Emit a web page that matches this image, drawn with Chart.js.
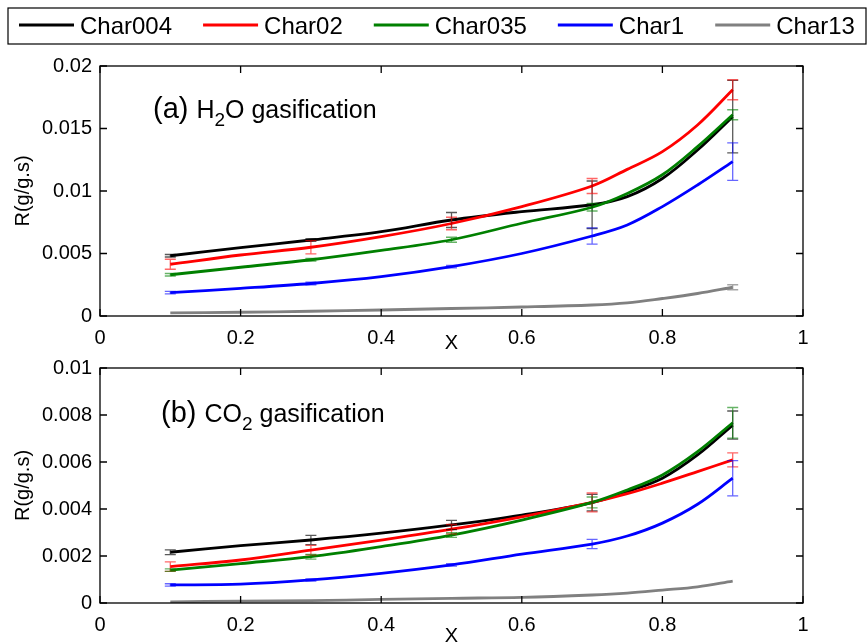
<!DOCTYPE html>
<html>
<head>
<meta charset="utf-8">
<script src="https://cdn.jsdelivr.net/npm/chart.js@4.4.0/dist/chart.umd.min.js"></script>
<style>
  html, body { margin: 0; padding: 0; background: #fff; overflow: hidden; }
  #wrap { position: relative; width: 867px; height: 644px; }
  canvas { position: absolute; left: 0; }
  #canvas_top { top: 0; }
  #canvas_bottom { top: 320px; }
</style>
</head>
<body>
<div id="wrap">
  <canvas id="canvas_top" width="867" height="360"></canvas>
  <canvas id="canvas_bottom" width="867" height="340"></canvas>
</div>
<script>
// conversion X, shared by every curve
const xs = [0.1, 0.2, 0.3, 0.4, 0.5, 0.6, 0.7, 0.75, 0.8, 0.85, 0.9];
const names = ['Char004', 'Char02', 'Char035', 'Char1', 'Char13'];
const colors = ['#000000', '#ff0000', '#008000', '#0000ff', '#808080'];
const barColors = ['rgba(0,0,0,0.65)', 'rgba(255,0,0,0.6)', 'rgba(0,128,0,0.6)', 'rgba(0,0,255,0.6)', 'rgba(128,128,128,0.7)'];

// error bars are at these X
const errX = [0.1, 0.3, 0.5, 0.7, 0.9];

// (a) H2O gasification, R in g/g.s
const h2oChar004 = [0.00482, 0.00547, 0.00608, 0.00675, 0.00768, 0.00835, 0.0089, 0.00955, 0.0110, 0.01328, 0.01595];
const h2oChar02  = [0.00414, 0.00488, 0.00550, 0.00635, 0.00740, 0.00875, 0.0104, 0.01173, 0.01315, 0.01528, 0.0181];
const h2oChar035 = [0.00330, 0.00390, 0.00450, 0.00525, 0.00610, 0.00742, 0.0087, 0.0098, 0.0113, 0.01355, 0.0161];
const h2oChar1   = [0.00187, 0.00221, 0.00260, 0.00315, 0.00395, 0.00500, 0.0064, 0.00728, 0.00875, 0.01048, 0.01235];
const h2oChar13  = [0.00025, 0.00030, 0.00038, 0.00048, 0.00060, 0.00072, 0.00088, 0.00105, 0.0014, 0.0018, 0.0023];

const h2oErrChar004 = [0.0001, 0.0001, 0.0006, 0.0019, 0.0029];
const h2oErrChar02  = [0.0004, 0.00053, 0.0005, 0.0006, 0.0008];
const h2oErrChar035 = [0.0001, 0.0001, 0.0002, 0.0003, 0.0004];
const h2oErrChar1   = [0.0001, 0.0001, 0.0001, 0.00065, 0.0015];
const h2oErrChar13  = [0, 0, 0, 0, 0.0002];

// (b) CO2 gasification
const co2Char004 = [0.00216, 0.00244, 0.00268, 0.00297, 0.00332, 0.00374, 0.00427, 0.00474, 0.00531, 0.0063, 0.00757];
const co2Char02  = [0.00155, 0.00183, 0.00225, 0.00268, 0.00314, 0.00367, 0.00428, 0.00465, 0.0051, 0.00559, 0.00609];
const co2Char035 = [0.00140, 0.00168, 0.00197, 0.00240, 0.00289, 0.00353, 0.00428, 0.00481, 0.00545, 0.00644, 0.00767];
const co2Char1   = [0.00077, 0.00080, 0.00098, 0.00126, 0.00162, 0.00208, 0.00251, 0.00285, 0.00340, 0.00420, 0.00531];
const co2Char13  = [0.00005, 0.00008, 0.00010, 0.00015, 0.00020, 0.00024, 0.00034, 0.00042, 0.00055, 0.00069, 0.00093];

const co2ErrChar004 = [0.0001, 0.0002, 0.0002, 0.00035, 0.0006];
const co2ErrChar02  = [0.0002, 0.0002, 0.0002, 0.0004, 0.0003];
const co2ErrChar035 = [0.00005, 0.0001, 0.0001, 0.00023, 0.00065];
const co2ErrChar1   = [0.00005, 0.00005, 0.00005, 0.0002, 0.00075];
const co2ErrChar13  = [0, 0, 0, 0, 0];

const xTicks = [0, 0.2, 0.4, 0.6, 0.8, 1];

const FONT = "'Liberation Sans', Arial, sans-serif";

function makeDatasets(series, errors) {
    return series.map((vals, i) => ({
        label: names[i],
        data: xs.map((x, k) => ({ x: x, y: vals[k] })),
        errors: errors[i],
        borderColor: colors[i],
        backgroundColor: colors[i],
        barColor: barColors[i],
        borderWidth: 2.8,
        pointRadius: 0,
        fill: false,
        tension: 0.35,
        order: series.length - i
    }));
}

function fmt(v) {
    return String(+v.toFixed(4));
}

// vertical error bars with caps, centred on the curve value
const errorBars = {
    id: 'errorBars',
    afterDatasetsDraw(chart) {
        const ctx = chart.ctx;
        const xs_ = chart.scales.x, ys_ = chart.scales.y;
        ctx.save();
        chart.data.datasets.forEach(ds => {
            ctx.strokeStyle = ds.barColor;
            ctx.lineWidth = 1.3;
            errX.forEach((x, k) => {
                const e = ds.errors[k];
                if (!e) return;
                const c = ds.data.find(p => p.x === x).y;
                const px = xs_.getPixelForValue(x);
                const t = ys_.getPixelForValue(c + e);
                const b = ys_.getPixelForValue(c - e);
                ctx.beginPath();
                ctx.moveTo(px, t); ctx.lineTo(px, b);
                ctx.moveTo(px - 5.5, t); ctx.lineTo(px + 5.5, t);
                ctx.moveTo(px - 5.5, b); ctx.lineTo(px + 5.5, b);
                ctx.stroke();
            });
        });
        ctx.restore();
    }
};

// matlab style box with inward ticks on all four sides
const frame = {
    id: 'frame',
    afterDraw(chart) {
        const ctx = chart.ctx;
        const a = chart.chartArea;
        const sx = chart.scales.x, sy = chart.scales.y;
        ctx.save();
        ctx.strokeStyle = '#000';
        ctx.lineWidth = 1.3;
        ctx.strokeRect(a.left, a.top, a.right - a.left, a.bottom - a.top);
        ctx.beginPath();
        sx.ticks.forEach(t => {
            const p = sx.getPixelForValue(t.value);
            ctx.moveTo(p, a.bottom); ctx.lineTo(p, a.bottom - 7);
            ctx.moveTo(p, a.top); ctx.lineTo(p, a.top + 7);
        });
        sy.ticks.forEach(t => {
            const p = sy.getPixelForValue(t.value);
            ctx.moveTo(a.left, p); ctx.lineTo(a.left + 7, p);
            ctx.moveTo(a.right, p); ctx.lineTo(a.right - 7, p);
        });
        ctx.stroke();
        ctx.restore();
    }
};

// panel label like "(a) H2O gasification", the subscript is its own piece
const panelText = {
    id: 'panelText',
    afterDraw(chart, args, opts) {
        const ctx = chart.ctx;
        const a = chart.chartArea;
        let x = a.left + opts.dx;
        const y = a.top + opts.dy;
        ctx.save();
        ctx.fillStyle = '#000';
        ctx.textBaseline = 'alphabetic';
        opts.parts.forEach(p => {
            ctx.font = p.size + 'px ' + FONT;
            ctx.fillText(p.text, x, y + (p.sub ? 8 : 0));
            x += ctx.measureText(p.text).width + (p.gap || 0);
        });
        ctx.restore();
    }
};

// legend in a box across the top of the figure
const legendBox = {
    id: 'legendBox',
    afterDraw(chart, args, opts) {
        if (!opts.show) return;
        const ctx = chart.ctx;
        ctx.save();
        ctx.strokeStyle = '#000';
        ctx.lineWidth = 1.2;
        ctx.strokeRect(opts.left, opts.top, opts.right - opts.left, opts.bottom - opts.top);
        const cy = (opts.top + opts.bottom) / 2;
        ctx.font = '24px ' + FONT;
        ctx.textBaseline = 'middle';
        let x = opts.left + 11;
        chart.data.datasets.forEach(ds => {
            ctx.strokeStyle = ds.borderColor;
            ctx.lineWidth = 3;
            ctx.beginPath();
            ctx.moveTo(x, cy - 1); ctx.lineTo(x + 55, cy - 1);
            ctx.stroke();
            ctx.fillStyle = '#000';
            ctx.fillText(ds.label, x + 61, cy + 1);
            x += 61 + ctx.measureText(ds.label).width + 31;
        });
        ctx.restore();
    }
};

function makeChart(canvas, series, errors, yMax, yStep, cfg) {
    return new Chart(canvas, {
        type: 'line',
        data: { datasets: makeDatasets(series, errors) },
        options: {
            responsive: false,
            animation: false,
            events: [],
            layout: { padding: { top: cfg.padTop, right: 64, left: 0, bottom: 0 } },
            scales: {
                x: {
                    type: 'linear',
                    min: 0, max: 1,
                    afterBuildTicks: s => { s.ticks = xTicks.map(v => ({ value: v })); },
                    afterFit: s => { s.height = cfg.xHeight; },
                    grid: { display: false, drawTicks: false },
                    border: { display: false },
                    ticks: {
                        color: '#000', padding: 10,
                        font: { family: FONT, size: 20 },
                        callback: v => fmt(v)
                    },
                    title: {
                        display: true, text: 'X', color: '#000',
                        font: { family: FONT, size: 20 },
                        padding: { top: 0, bottom: cfg.xTitlePad }
                    }
                },
                y: {
                    min: 0, max: yMax,
                    afterFit: s => { s.width = 100; },
                    grid: { display: false, drawTicks: false },
                    border: { display: false },
                    ticks: {
                        stepSize: yStep, color: '#000', padding: 8,
                        font: { family: FONT, size: 20 },
                        callback: v => fmt(v)
                    },
                    title: {
                        display: true, text: 'R(g/g.s)', color: '#000',
                        font: { family: FONT, size: 20 },
                        padding: { top: 11, bottom: 0 }
                    }
                }
            },
            plugins: {
                legend: { display: false },
                tooltip: { enabled: false },
                panelText: cfg.panel,
                legendBox: cfg.legend
            }
        },
        plugins: [errorBars, frame, panelText, legendBox]
    });
}

makeChart(document.getElementById('canvas_top'),
    [h2oChar004, h2oChar02, h2oChar035, h2oChar1, h2oChar13],
    [h2oErrChar004, h2oErrChar02, h2oErrChar035, h2oErrChar1, h2oErrChar13],
    0.02, 0.005,
    {
        padTop: 66, xHeight: 44, xTitlePad: 5,
        panel: {
            dx: 53, dy: 52,
            parts: [
                { text: '(a)', size: 29, gap: 8 },
                { text: 'H', size: 25 },
                { text: '2', size: 19, sub: true },
                { text: 'O gasification', size: 25 }
            ]
        },
        legend: { show: true, left: 8, top: 8, right: 866, bottom: 44 }
    });

makeChart(document.getElementById('canvas_bottom'),
    [co2Char004, co2Char02, co2Char035, co2Char1, co2Char13],
    [co2ErrChar004, co2ErrChar02, co2ErrChar035, co2ErrChar1, co2ErrChar13],
    0.01, 0.002,
    {
        padTop: 48, xHeight: 57, xTitlePad: 12,
        panel: {
            dx: 61, dy: 54,
            parts: [
                { text: '(b)', size: 29, gap: 8 },
                { text: 'CO', size: 25 },
                { text: '2', size: 19, sub: true, gap: 7 },
                { text: 'gasification', size: 25 }
            ]
        },
        legend: { show: false }
    });
</script>
</body>
</html>
